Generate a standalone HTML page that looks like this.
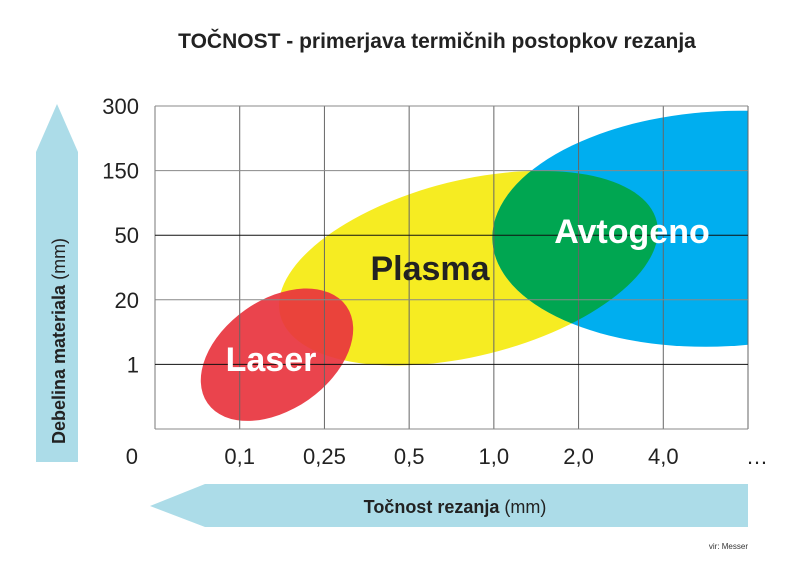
<!DOCTYPE html>
<html><head><meta charset="utf-8"><style>
body{margin:0;background:#fff;font-family:"Liberation Sans",sans-serif}
</style></head><body>
<svg width="793" height="567" viewBox="0 0 793 567">
<script>
const xTickLabels=["0,1","0,25","0,5","1,0","2,0","4,0"];
const yTickLabels=["1","20","50","150","300"];
const regionNames=["Laser","Plasma","Avtogeno"];
const regionCx=[1.44,3.7,6.7];
const regionCy=[1.15,2.49,3.1];
const regionRx=[1.0,2.29,2.72];
const regionRy=[0.85,1.36,1.82];
</script>
<text x="437" y="48" text-anchor="middle" font-size="21" font-weight="bold" fill="#222">TOČNOST - primerjava termičnih postopkov rezanja</text>
<polygon points="36,152 57,104 78,152 78,462 36,462" fill="#acdce8"/>
<text transform="translate(65,444) rotate(-90)" font-size="18" fill="#222"><tspan font-weight="bold">Debelina materiala</tspan> (mm)</text>
<polygon points="150,506 205,484 748,484 748,527 205,527" fill="#acdce8"/>
<text x="455" y="513" text-anchor="middle" font-size="18" fill="#222"><tspan font-weight="bold">Točnost rezanja</tspan> (mm)</text>
<text x="748" y="549" text-anchor="end" font-size="8" fill="#333">vir: Messer</text>
<defs><clipPath id="plotclip"><rect x="155" y="106" width="593" height="323"/></clipPath>
<clipPath id="blueclip"><ellipse id="bc"/></clipPath></defs>
<g id="regions" clip-path="url(#plotclip)"></g>
<g id="grid"></g>
<g id="labels"></g>
</svg>
<script>
const NS="http://www.w3.org/2000/svg";
const L=155,R=748,T=106,B=429,dx=(R-L)/7,dy=(B-T)/5;
const X=v=>L+v*dx, Y=v=>B-v*dy;
const regions=document.getElementById('regions');
const grid=document.getElementById('grid');
const labels=document.getElementById('labels');
const rots=[-35,-14,-3];
const fills=["#e8343e","#f6ec22","#00aeef"];
function mk(tag,attrs,parent){const e=document.createElementNS(NS,tag);for(const k in attrs)e.setAttribute(k,attrs[k]);parent.appendChild(e);return e;}
function ell(i,fill,parent,op){
  const cx=X(regionCx[i]),cy=Y(regionCy[i]);
  return mk('ellipse',{cx:cx,cy:cy,rx:regionRx[i]*dx,ry:regionRy[i]*dy,transform:`rotate(${rots[i]} ${cx} ${cy})`,fill:fill,opacity:op||1},parent);
}
const ep=ell(1,fills[1],regions);


const eb=ell(2,fills[2],regions);


const bc=document.getElementById('bc');
{const cx=X(regionCx[2]),cy=Y(regionCy[2]);
bc.setAttribute('cx',cx);bc.setAttribute('cy',cy);bc.setAttribute('rx',regionRx[2]*dx);bc.setAttribute('ry',regionRy[2]*dy);bc.setAttribute('transform',`rotate(${rots[2]} ${cx} ${cy})`);}
const g2=mk('g',{'clip-path':'url(#blueclip)'},regions);
const eg=ell(1,"#00a651",g2);


const el=ell(0,fills[0],regions,0.92);


for(let i=0;i<=7;i++){
  const ln=mk('line',{x1:X(i),x2:X(i),y1:T,y2:B,stroke:i===0?'#777':'#666','stroke-width':1},grid);
  
  
}
for(let j=0;j<=5;j++){
  const ln=mk('line',{x1:L,x2:R,y1:Y(j),y2:Y(j),stroke:(j===1||j===3)?'#111':'#888','stroke-width':1},grid);
  
  
}
xTickLabels.forEach((t,i)=>{
  const e=mk('text',{x:X(i+1),y:464,'text-anchor':'middle','font-size':22,fill:'#222'},labels);e.textContent=t;
  
  
});
{const e=mk('text',{x:757,y:464,'text-anchor':'middle','font-size':22,fill:'#222'},labels);e.textContent="…";

}
{const e=mk('text',{x:138,y:464,'text-anchor':'end','font-size':22,fill:'#222'},labels);e.textContent="0";

}
yTickLabels.forEach((t,j)=>{
  const e=mk('text',{x:139,y:Y(j+1)+8,'text-anchor':'end','font-size':22,fill:'#222'},labels);e.textContent=t;
  
  
});
const lp=[[271,371,'#fff'],[430,280,'#222'],[632,243,'#fff']];
regionNames.forEach((n,i)=>{
  const e=mk('text',{x:lp[i][0],y:lp[i][1],'text-anchor':'middle','font-size':34,'font-weight':'bold',fill:lp[i][2]},labels);e.textContent=n;
  
  
});
</script>
</body></html>
